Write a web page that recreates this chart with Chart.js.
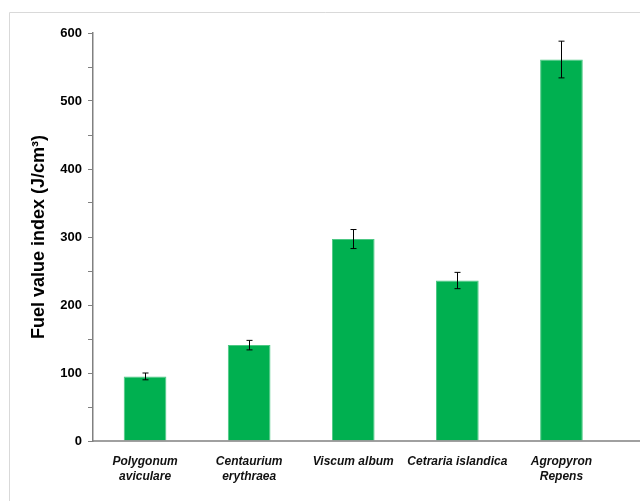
<!DOCTYPE html>
<html>
<head>
<meta charset="utf-8">
<script src="https://cdn.jsdelivr.net/npm/chart.js@4"></script>
<style>
  html, body { margin: 0; padding: 0; background: #fff; }
  #wrap { width: 640px; height: 501px; position: relative; }
</style>
</head>
<body>
<div id="wrap"><canvas id="c"></canvas></div>
<script>
// Plant species (two-line labels where the name wraps)
const species = [
  ['Polygonum', 'aviculare'],
  ['Centaurium', 'erythraea'],
  'Viscum album',
  'Cetraria islandica',
  ['Agropyron', 'Repens']
];
// Mean fuel value index (J/cm³) and its standard error
const fuelValue = [95, 141, 297, 236, 561];
const fuelError = [5, 7, 14, 12, 27];
// Axis range
const yMin = 0;
const yMax = 600;

const FONT = "'Liberation Sans', Arial, sans-serif";

// Light frame around the figure
const framePlugin = {
  id: 'frame',
  beforeDraw(chart) {
    const ctx = chart.ctx;
    ctx.save();
    ctx.strokeStyle = '#d9d9d9';
    ctx.lineWidth = 1;
    ctx.beginPath();
    ctx.moveTo(9.5, chart.height + 2);
    ctx.lineTo(9.5, 12.5);
    ctx.lineTo(chart.width + 2, 12.5);
    ctx.stroke();
    ctx.restore();
  }
};

// Horizontal axis line running to the right edge
const xAxisLine = {
  id: 'xAxisLine',
  afterDatasetsDraw(chart) {
    const ctx = chart.ctx;
    const y = chart.scales.y.getPixelForValue(0);
    ctx.save();
    ctx.strokeStyle = '#808080';
    ctx.lineWidth = 1.5;
    ctx.beginPath();
    ctx.moveTo(chart.chartArea.left, y);
    ctx.lineTo(chart.width, y);
    ctx.stroke();
    ctx.restore();
  }
};

// Error bars drawn from the error array through the scales
const errorBars = {
  id: 'errorBars',
  afterDatasetsDraw(chart) {
    const ctx = chart.ctx;
    const meta = chart.getDatasetMeta(0);
    const ys = chart.scales.y;
    ctx.save();
    ctx.strokeStyle = '#000';
    ctx.lineWidth = 1;
    meta.data.forEach((bar, i) => {
      const x = Math.round(bar.x) + 0.5;
      const top = ys.getPixelForValue(fuelValue[i] + fuelError[i]);
      const bot = ys.getPixelForValue(fuelValue[i] - fuelError[i]);
      const cap = 3;
      ctx.beginPath();
      ctx.moveTo(x, top); ctx.lineTo(x, bot);
      ctx.moveTo(x - cap, top); ctx.lineTo(x + cap, top);
      ctx.moveTo(x - cap, bot); ctx.lineTo(x + cap, bot);
      ctx.stroke();
    });
    ctx.restore();
  }
};

new Chart(document.getElementById('c'), {
  type: 'bar',
  data: {
    labels: species,
    datasets: [{
      data: fuelValue,
      backgroundColor: '#00b050',
      borderColor: '#4cc884',
      borderWidth: 1,
      barPercentage: 0.41,
      categoryPercentage: 1.0
    }]
  },
  options: {
    responsive: true,
    maintainAspectRatio: false,
    animation: false,
    layout: { padding: { left: 0, top: 33, right: 26.5, bottom: 0 } },
    plugins: {
      legend: { display: false },
      tooltip: { enabled: false }
    },
    scales: {
      x: {
        offset: true,
        grid: { display: false, drawTicks: false },
        border: { display: false },
        ticks: {
          color: '#111',
          padding: 13,
          maxRotation: 0,
          autoSkip: false,
          font: { family: FONT, size: 12, weight: 'bold', style: 'italic', lineHeight: 1.25 }
        },
        afterFit(scale) { scale.height = 60; }
      },
      y: {
        min: yMin,
        max: yMax,
        grid: {
          drawOnChartArea: false,
          drawTicks: true,
          tickLength: 5,
          color: '#808080'
        },
        border: { display: true, color: '#808080', width: 1.5 },
        ticks: {
          stepSize: 50,
          color: '#000',
          padding: 6,
          font: { family: FONT, size: 13, weight: 'bold' },
          callback: (v) => (v % 100 === 0 ? String(v) : '')
        },
        title: {
          display: true,
          text: 'Fuel value index (J/cm³)',
          color: '#000',
          padding: { top: 28, bottom: 0 },
          font: { family: FONT, size: 18, weight: 'bold' }
        },
        afterFit(scale) { scale.width = 93; }
      }
    }
  },
  plugins: [framePlugin, xAxisLine, errorBars]
});
</script>
</body>
</html>
